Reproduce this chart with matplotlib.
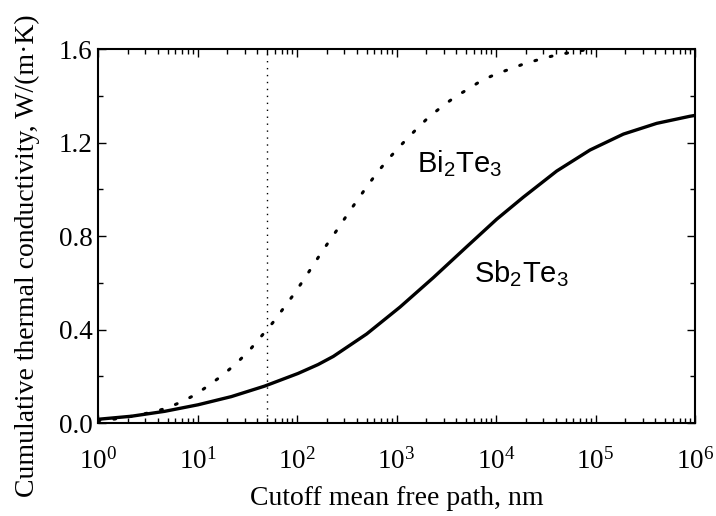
import numpy as np
import matplotlib
matplotlib.use("Agg")
import matplotlib.pyplot as plt
from matplotlib.ticker import LogLocator, MultipleLocator, LogFormatterMathtext, NullFormatter

plt.rcParams['font.family'] = ['Liberation Serif', 'DejaVu Serif']
plt.rcParams['mathtext.fontset'] = 'custom'
plt.rcParams['mathtext.rm'] = 'Liberation Serif'
plt.rcParams['mathtext.sf'] = 'Liberation Sans'

# cutoff mean free path as log10(nm), and cumulative kappa
logmfp_sb = [0.0, 0.335, 0.67, 1.005, 1.34, 1.675, 2.01, 2.211, 2.365, 2.7,
             3.035, 3.37, 3.705, 4.007, 4.274, 4.61, 4.945, 5.28, 5.615, 5.945, 6.0]
k_sb = [0.016, 0.029, 0.050, 0.078, 0.113, 0.158, 0.212, 0.250, 0.285, 0.381,
        0.496, 0.622, 0.754, 0.872, 0.966, 1.078, 1.168, 1.236, 1.282, 1.312, 1.316]

logmfp_bi = [0.0, 0.15, 0.29, 0.425, 0.563, 0.70, 0.841, 0.978, 1.116, 1.253,
             1.39, 1.524, 1.641, 1.756, 1.859, 1.96, 2.053, 2.144, 2.234, 2.328,
             2.422, 2.515, 2.609, 2.706, 2.807, 2.921, 3.045, 3.179, 3.317, 3.454,
             3.591, 3.729, 3.849, 4.0, 4.138, 4.278, 4.415, 4.556, 4.69, 4.837,
             5.0, 5.5, 6.0]
k_bi = [0.010, 0.016, 0.025, 0.036, 0.048, 0.065, 0.091, 0.121, 0.162, 0.205,
        0.255, 0.312, 0.371, 0.429, 0.488, 0.546, 0.604, 0.663, 0.722, 0.781,
        0.838, 0.898, 0.955, 1.014, 1.072, 1.131, 1.189, 1.248, 1.306, 1.353,
        1.396, 1.431, 1.464, 1.493, 1.514, 1.536, 1.553, 1.569, 1.581, 1.592,
        1.603, 1.63, 1.65]

cutoff = 50  # nm

mfp_sb = 10 ** np.array(logmfp_sb)
mfp_bi = 10 ** np.array(logmfp_bi)

fig = plt.figure(figsize=(7.16, 5.16), dpi=100)
ax = fig.add_axes([0.1369, 0.1802, 0.8338, 0.7248])

ax.plot(mfp_sb, k_sb, color='black', lw=2.4, solid_capstyle='butt',
        solid_joinstyle='round')
ax.plot(mfp_bi, k_bi, color='black', lw=2.2, linestyle=(0, (0.6, 4.6)),
        dash_capstyle='round')
ax.axvline(cutoff, color='black', lw=1.0, linestyle=(0, (1, 4)))

ax.set_xscale('log')
ax.set_xlim(1, 1e6)
ax.set_ylim(0, 1.6)

ax.xaxis.set_major_locator(LogLocator(base=10, numticks=10))
ax.xaxis.set_minor_locator(LogLocator(base=10, subs=np.arange(2, 10), numticks=10))
ax.xaxis.set_major_formatter(LogFormatterMathtext())
ax.xaxis.set_minor_formatter(NullFormatter())
ax.yaxis.set_major_locator(MultipleLocator(0.4))
ax.yaxis.set_minor_locator(MultipleLocator(0.2))
ax.yaxis.set_major_formatter(lambda v, p: f"{v:.1f}")

for s in ax.spines.values():
    s.set_linewidth(1.5)
ax.tick_params(which='both', direction='in', top=True, right=True, width=1.0)
ax.tick_params(which='major', length=5.5, labelsize=19.5)
ax.tick_params(which='minor', length=3.5)
ax.tick_params(axis='x', which='major', pad=18)
ax.tick_params(axis='y', which='major', pad=4)

ax.set_xlabel('Cutoff mean free path, nm', fontsize=20, labelpad=8)
ax.set_ylabel('Cumulative thermal conductivity, W/(m\u00b7K)', fontsize=20)
ax.yaxis.set_label_coords(-0.097, 0.448)

ax.text(1596, 1.074, r'$\mathsf{Bi_2Te_3}$', fontsize=21, va='baseline', ha='left')
ax.text(6000, 0.603, r'$\mathsf{Sb_2Te_3}$', fontsize=21, va='baseline', ha='left')

fig.savefig('out.png', dpi=100)
